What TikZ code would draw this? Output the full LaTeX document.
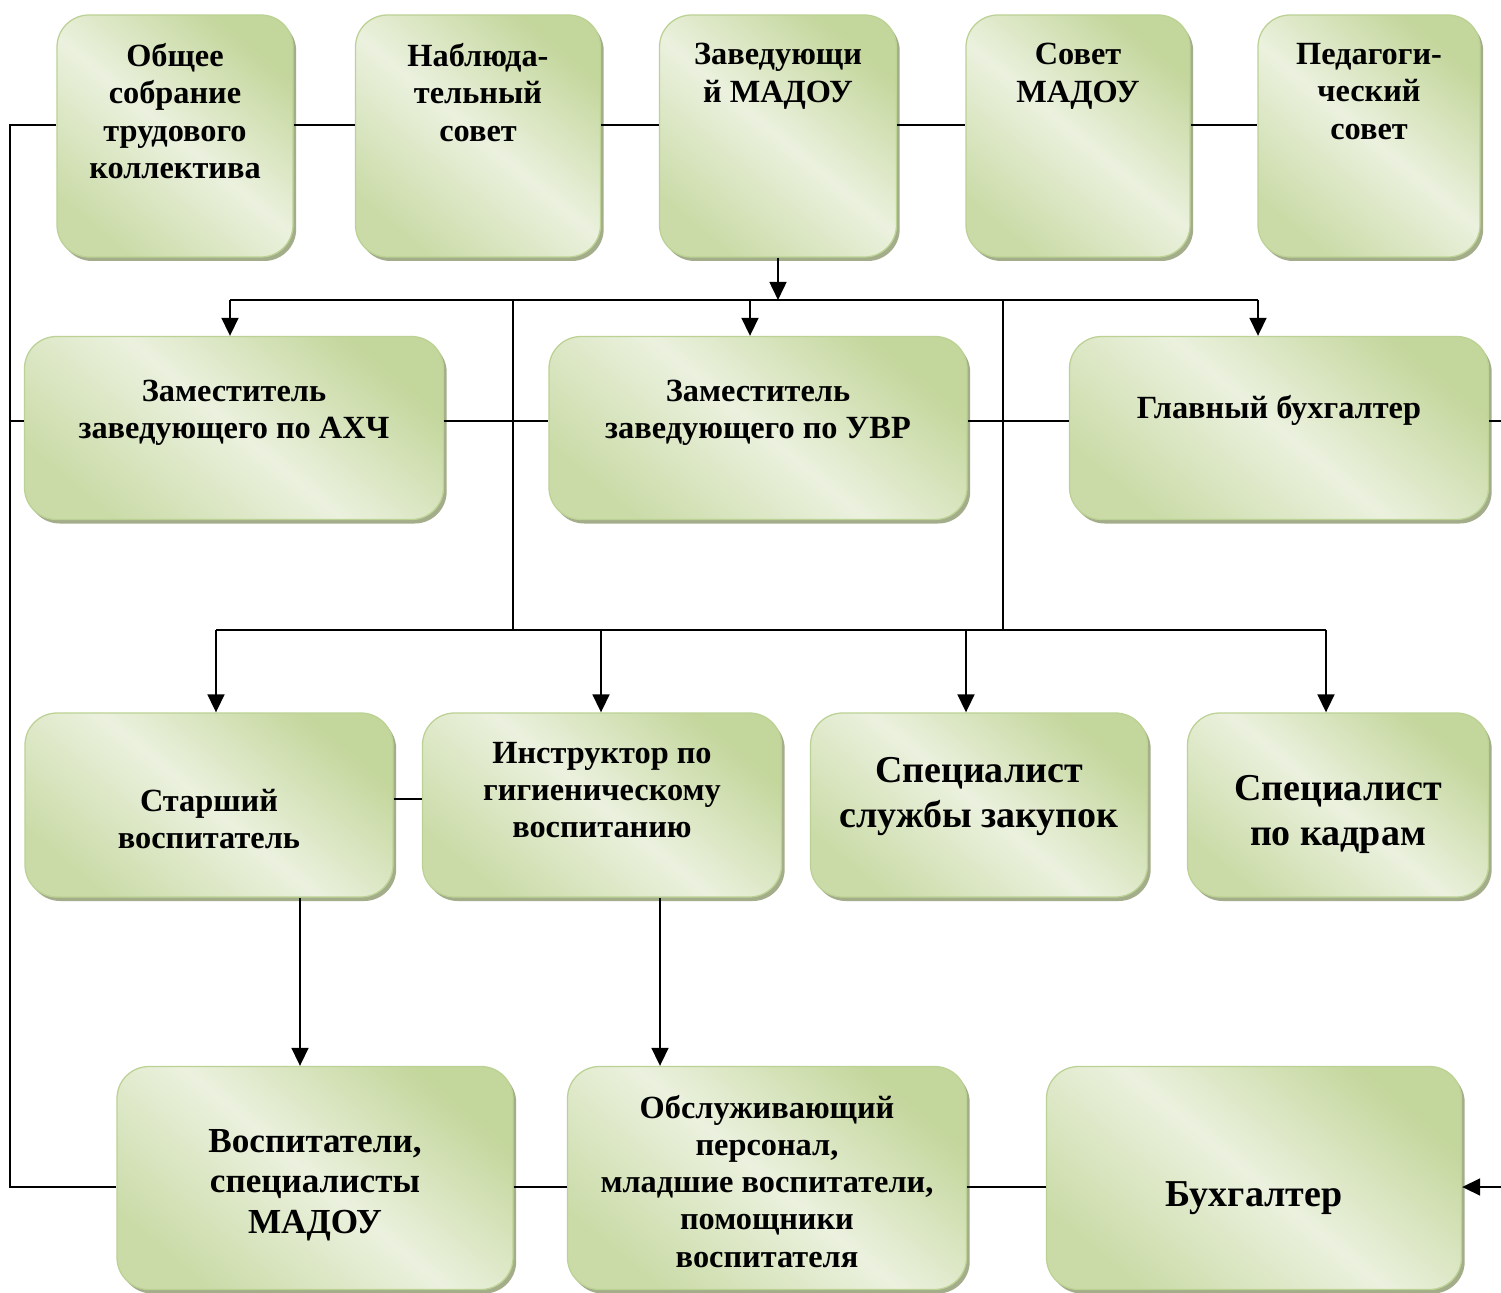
\documentclass[tikz,border=0pt]{standalone}
\usepackage{fontspec}
\setmainfont{Liberation Serif}
\usetikzlibrary{arrows.meta,shadows}

\definecolor{boxDark}{HTML}{C3D69B}
\definecolor{boxLight}{HTML}{EBF1DE}
\definecolor{boxEdge}{HTML}{BCD294}
\definecolor{boxShadow}{HTML}{A3AD8A}

\tikzset{
	box/.style={rectangle, rounded corners=0.8cm, draw=boxEdge, line width=0.9pt,
		top color=boxDark, bottom color=boxDark!80!boxLight, middle color=boxLight, shading angle=-40,
		drop shadow={shadow xshift=0.08cm, shadow yshift=-0.1cm, fill=boxShadow, opacity=1}},
	sz/.style 2 args={minimum width=#1*0.025cm, minimum height=#2*0.025cm},
	lbl/.style={font=\fontsize{23}{26.5}\selectfont\bfseries, align=center, text=black, inner sep=0pt},
	lblmid/.style={lbl, font=\fontsize{25}{28.5}\selectfont\bfseries},
	lblbig/.style={lbl, font=\fontsize{27}{32}\selectfont\bfseries},
	conn/.style={line width=1.6pt},
	arr/.style={conn, -{Triangle[width=0.42cm,length=0.45cm]}}
}

\begin{document}
\begin{tikzpicture}[x=0.025cm, y=-0.025cm]
	\newcommand{\rowOne}{136}
	\newcommand{\rowTwo}{428}
	\newcommand{\rowThree}{805}
	\newcommand{\rowFour}{1178}
	
	\fill[white] (0,0) rectangle (1501,1293);	% background
	\useasboundingbox (0,0) rectangle (1501,1293);
	
	% top row
	\node[box, sz={236}{242}, label={[lbl, anchor=north, yshift=-0.72cm]north:Общее\\собрание\\трудового\\коллектива}] (obsh) at (175,\rowOne) {};
	\node[box, sz={245}{242}, label={[lbl, anchor=north, yshift=-0.72cm]north:Наблюда-\\тельный\\совет}] (nabl) at (478,\rowOne) {};
	\node[box, sz={237}{242}, label={[lbl, anchor=north, yshift=-0.72cm]north:Заведующи\\й МАДОУ}] (zav) at (778,\rowOne) {};
	\node[box, sz={224}{242}, label={[lbl, anchor=north, yshift=-0.72cm]north:Совет\\МАДОУ}] (sovet) at (1078,\rowOne) {};
	\node[box, sz={222}{242}, label={[lbl, anchor=north, yshift=-0.72cm]north:Педагоги-\\ческий\\совет}] (ped) at (1369,\rowOne) {};
	
	% deputies
	\node[box, sz={419}{183}, label={[lbl, yshift=0.38cm]center:Заместитель\\заведующего по АХЧ}] (zamA) at (234,\rowTwo) {};
	\node[box, sz={418}{183}, label={[lbl, yshift=0.38cm]center:Заместитель\\заведующего по УВР}] (zamU) at (758,\rowTwo) {};
	\node[box, sz={419}{183}, label={[lbl, yshift=0.45cm]center:Главный бухгалтер}] (glav) at (1279,\rowTwo) {};
	
	% specialists
	\node[box, sz={368}{184}, label={[lbl, yshift=-0.35cm]center:Старший\\воспитатель}] (star) at (209,\rowThree) {};
	\node[box, sz={359}{184}, label={[lbl, yshift=0.37cm]center:Инструктор по\\гигиеническому\\воспитанию}] (instr) at (602,\rowThree) {};
	\node[box, sz={337}{184}, label={[lblbig, yshift=0.2cm]center:Специалист\\службы закупок}] (spZak) at (979,\rowThree) {};
	\node[box, sz={301}{184}, label={[lblbig, yshift=-0.24cm]center:Специалист\\по кадрам}] (spKadr) at (1338,\rowThree) {};
	
	% staff
	\node[box, sz={396}{223}, label={[lblmid, yshift=-0.18cm]center:Воспитатели,\\специалисты\\МАДОУ}] (vosp) at (315,\rowFour) {};
	\node[box, sz={399}{223}, label={[lbl, yshift=-0.08cm]center:Обслуживающий\\персонал,\\младшие воспитатели,\\помощники\\воспитателя}] (obsl) at (767,\rowFour) {};
	\node[box, sz={415}{223}, label={[lblbig, yshift=-0.5cm]center:Бухгалтер}] (buh) at (1254,\rowFour) {};
	
	% left and right edge lines
	\coordinate (lTop) at (10,125);
	\coordinate (lMid) at (10,421);
	\coordinate (lBot) at (10,1187);
	\coordinate (rMid) at (1501,421);
	\coordinate (rBot) at (1501,1187);
	\draw[conn] (obsh.west |- lTop) -- (lTop) -- (lBot) -- (vosp.west |- lBot);
	\draw[conn] (lMid) -- (zamA.west |- lMid);
	\draw[conn] (glav.east |- rMid) -- (rMid);
	\draw[arr] (rBot) -- (buh.east |- rBot);
	
	% horizontal links
	\foreach \a/\b in {obsh/nabl, nabl/zav, zav/sovet, sovet/ped}
		\draw[conn] (\a.east |- lTop) -- (\b.west |- lTop);
	\foreach \a/\b in {zamA/zamU, zamU/glav}
		\draw[conn] (\a.east |- lMid) -- (\b.west |- lMid);
	\foreach \a/\b in {vosp/obsl, obsl/buh}
		\draw[conn] (\a.east |- lBot) -- (\b.west |- lBot);
	\draw[conn] (star.east |- 0,799) -- (instr.west |- 0,799);
	
	% upper bus
	\coordinate (busA) at (778,300);
	\coordinate (busAL) at (230,300);
	\coordinate (busAR) at (1258,300);
	\draw[arr] (zav.south) -- (busA);
	\draw[conn] (busAL) -- (busAR);
	\foreach \b/\x in {zamA/230, zamU/750, glav/1258}
		\draw[arr] (\x,300) -- (\b.north -| \x,0);
	
	% lower bus
	\coordinate (busBL) at (216,630);
	\coordinate (busBR) at (1326,630);
	\draw[conn] (513,300) -- (513,630);
	\draw[conn] (1003,300) -- (1003,630);
	\draw[conn] (busBL) -- (busBR);
	\foreach \b/\x in {star/216, instr/601, spZak/966, spKadr/1326}
		\draw[arr] (\x,630) -- (\b.north -| \x,0);
	
	% down to staff
	\draw[arr] (star.south -| 300,0) -- (vosp.north -| 300,0);
	\draw[arr] (instr.south -| 660,0) -- (obsl.north -| 660,0);
\end{tikzpicture}
\end{document}
